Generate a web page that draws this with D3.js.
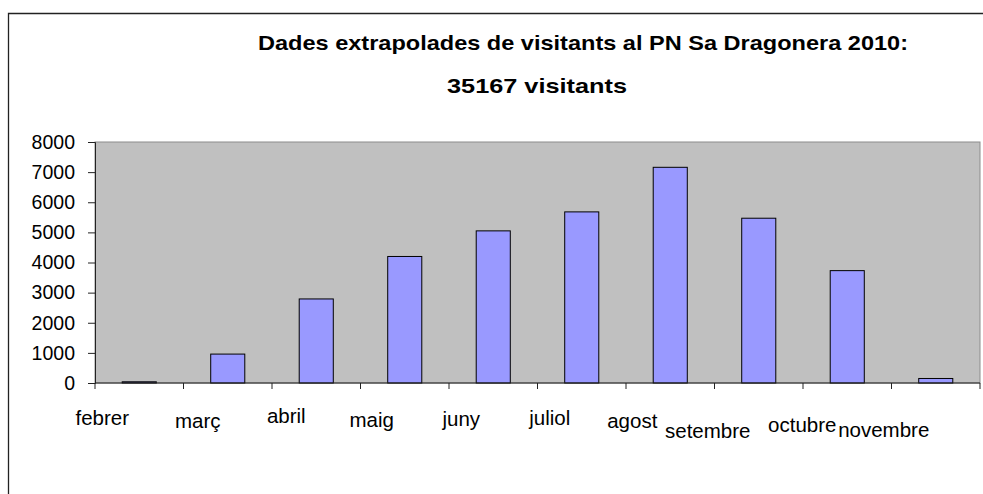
<!DOCTYPE html>
<html>
<head>
<meta charset="utf-8">
<script src="https://cdn.jsdelivr.net/npm/d3@7/dist/d3.min.js"></script>
<style>
  html, body { margin: 0; padding: 0; background: #fff; }
  svg { display: block; font-family: "Liberation Sans", Arial, sans-serif; }
</style>
</head>
<body>
<svg id="chart" width="983" height="494"></svg>
<script>
// ---- data ----
const titleLines = ["Dades extrapolades de visitants al PN Sa Dragonera 2010:", "35167 visitants"];
const months = ["febrer", "març", "abril", "maig", "juny", "juliol", "agost", "setembre", "octubre", "novembre"];
const visitors = [40, 960, 2790, 4200, 5050, 5680, 7160, 5470, 3730, 150];
const yTicks = [0, 1000, 2000, 3000, 4000, 5000, 6000, 7000, 8000];

// ---- layout ----
const W = 983, H = 494;
const plot = { left: 95, right: 980, top: 142, bottom: 383 };
// staggered label placement (offset from band centre, baseline below axis)
const labelDx = [-37, -30, -30, -33, -32, -32, -38, -51, -45, -52];
const labelBase = [42, 45, 40, 44, 43, 42, 45, 55, 49, 54];

const svg = d3.select("#chart");

// outer chart border (left + top visible)
svg.append("path")
  .attr("d", `M8.5,${H + 2} V13.5 H${W + 2}`)
  .attr("fill", "none").attr("stroke", "#222").attr("stroke-width", 1.3);

const x = d3.scaleBand().domain(months).range([plot.left, plot.right]).padding(0);
const y = d3.scaleLinear().domain([0, 8000]).range([plot.bottom, plot.top]);

// plot area
svg.append("rect")
  .attr("x", plot.left).attr("y", plot.top)
  .attr("width", plot.right - plot.left).attr("height", plot.bottom - plot.top)
  .attr("fill", "#c0c0c0").attr("stroke", "#8c8c8c").attr("stroke-width", 1);

// bars
const barFrac = 0.385;
svg.append("g").selectAll("rect").data(months).join("rect")
  .attr("x", (d) => x(d) + x.bandwidth() * (1 - barFrac) / 2)
  .attr("width", x.bandwidth() * barFrac)
  .attr("y", (d, i) => y(visitors[i]))
  .attr("height", (d, i) => y(0) - y(visitors[i]))
  .attr("fill", "#9999ff").attr("stroke", "#000").attr("stroke-width", 1);

// y axis
const yAxis = svg.append("g")
  .attr("transform", `translate(${plot.left},0)`)
  .call(d3.axisLeft(y).tickValues(yTicks).tickSize(7).tickPadding(13).tickFormat(d3.format("d")));
yAxis.select(".domain").attr("stroke", "#222");
yAxis.selectAll(".tick line").attr("stroke", "#222");
yAxis.selectAll("text").attr("font-size", "19.5px").attr("fill", "#000")
  .attr("font-family", "'Liberation Sans', Arial, sans-serif");

// x axis line with boundary ticks
const boundaries = months.map((m) => x(m)).concat([plot.right]);
svg.append("line")
  .attr("x1", plot.left).attr("x2", plot.right)
  .attr("y1", y(0)).attr("y2", y(0))
  .attr("stroke", "#222").attr("stroke-width", 1);
svg.append("g").selectAll("line").data(boundaries).join("line")
  .attr("x1", (d) => d).attr("x2", (d) => d)
  .attr("y1", y(0)).attr("y2", y(0) + 6)
  .attr("stroke", "#222");

// x labels
svg.append("g").selectAll("text").data(months).join("text")
  .attr("x", (d, i) => x(d) + x.bandwidth() / 2 + labelDx[i])
  .attr("y", (d, i) => y(0) + labelBase[i])
  .attr("text-anchor", "middle")
  .attr("font-size", "20.5px")
  .attr("fill", "#000")
  .text((d) => d);

// title
const titleX = [258, 447];
const titleY = [50, 93];
const titleLen = [650, 180];
svg.append("g").selectAll("text").data(titleLines).join("text")
  .attr("x", (d, i) => titleX[i]).attr("y", (d, i) => titleY[i])
  .attr("text-anchor", "start")
  .attr("font-size", "21px").attr("font-weight", "bold")
  .attr("textLength", (d, i) => titleLen[i])
  .attr("lengthAdjust", "spacingAndGlyphs")
  .attr("fill", "#000")
  .text((d) => d);
</script>
</body>
</html>
